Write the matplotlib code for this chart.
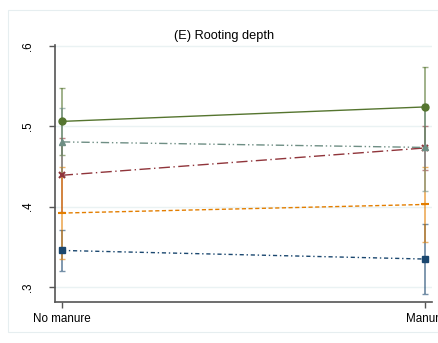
import numpy as np
import matplotlib.pyplot as plt
from matplotlib.patches import Rectangle

plt.rcParams['font.family'] = ['Liberation Sans', 'DejaVu Sans']

# Data
groups = ["No manure", "Manure"]
x = np.array([0, 1])

navy_mean = [0.3455, 0.3348]
navy_err = [0.026, 0.043]
maroon_mean = [0.439, 0.473]
maroon_err = [0.046, 0.027]
green_mean = [0.506, 0.524]
green_err = [0.0415, 0.0495]
orange_mean = [0.392, 0.4027]
orange_err = [0.0575, 0.0465]
teal_mean = [0.4805, 0.4736]
teal_err = [0.042, 0.054]

yticks = [0.3, 0.4, 0.5, 0.6]
yticklabels = [".3", ".4", ".5", ".6"]

fig = plt.figure(figsize=(4.39, 3.43), dpi=100)
fig.patches.append(Rectangle((8/439, 1-332/343), 430/439, 322/343, transform=fig.transFigure,
                             fill=False, edgecolor='#e6eef0', lw=0.8, zorder=0))
ax = fig.add_axes([55/439, 1-302/343, 377/439, 257/343])

series = [
    (navy_mean, navy_err, '#1a476f', 's', (0, (3, 2, 1, 2)), 4.5),
    (maroon_mean, maroon_err, '#90353b', 'x', (0, (8, 2.5, 1, 2.5)), 4.5),
    (green_mean, green_err, '#55752f', 'o', '-', 5),
    (orange_mean, orange_err, '#e37e00', '_', (0, (3, 1.8)), 6),
    (teal_mean, teal_err, '#6e8e84', '^', (0, (6, 2, 1, 2, 1, 2)), 5),
]

for m, e, c, mk, ls, ms in series:
    ax.errorbar(x, m, yerr=e, fmt='none', ecolor=c, alpha=0.6, elinewidth=1.3,
                capsize=2.5, capthick=1.0, zorder=2)
    ax.plot(x, m, color=c, linestyle=ls, lw=1.0, marker=mk, markersize=ms,
            mew=1.5 if mk in ('x', '_') else 1, zorder=3)

ax.set_xlim(-0.019, 1.018)
ax.set_ylim(0.2814, 0.601)
ax.set_yticks(yticks)
ax.set_yticklabels(yticklabels, rotation=90, va='center')
ax.set_xticks(x)
ax.set_xticklabels(groups)
ax.grid(axis='y', color='#eaf2f3', lw=1)
ax.set_axisbelow(True)
for s in ['top', 'right']:
    ax.spines[s].set_visible(False)
for s in ['left', 'bottom']:
    ax.spines[s].set_color('#555555')
    ax.spines[s].set_linewidth(1.2)
ax.tick_params(axis='y', length=4, width=1, color='#555555', pad=11, labelsize=8.4)
ax.tick_params(axis='x', length=4, width=1, color='#555555', pad=4, labelsize=8.4)

fig.text(224.5/439, 1-36.5/343, "(E) Rooting depth", ha='center', va='center', fontsize=9.2)

fig.savefig("out.png", dpi=100)
